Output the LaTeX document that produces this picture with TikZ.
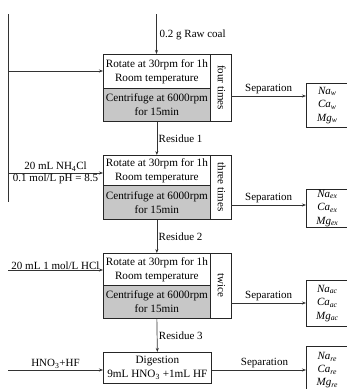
\documentclass[tikz,border=0pt]{standalone}
\usepackage{fontspec}
\setmainfont{Liberation Serif}
\usetikzlibrary{arrows.meta}
\newcommand\elm[2]{\textit{#1}\textsubscript{\textit{#2}}}
\begin{document}
\begin{tikzpicture}[x=1pt,y=-1pt,
  line/.style={draw=black!80, line width=0.7pt},
  arr/.style={line, -{Stealth[length=4pt,width=3pt]}},
  box/.style={draw=black!85, line width=0.7pt, anchor=north west, inner sep=0pt,
    align=center, font=\fontsize{11.2}{14}\selectfont},
  gbox/.style={box, fill=black!22},
  sidebox/.style={draw=black!85, line width=0.7pt, inner sep=0pt, rotate=-90,
    minimum height=21, text height=7.5pt, text depth=2pt, font=\fontsize{11}{13}\selectfont},
  outbox/.style={box, minimum width=42, font=\fontsize{11}{13.5}\selectfont},
  lab/.style={font=\fontsize{11}{13}\selectfont, inner sep=1.5pt}
]
\useasboundingbox (0,0) rectangle (347,389);
\clip (0,0) rectangle (347,389);

% stage 1
\node[box, minimum width=107, minimum height=34] (top1) at (103,54) {Rotate at 30rpm for 1h\\Room temperature};
\node[gbox, minimum width=107, minimum height=33] (bot1) at (103,88) {Centrifuge at 6000rpm\\for 15min};
\node[sidebox, minimum width=67] (side1) at (220.5,87.5) {four times};
\node[outbox, minimum height=44] (out1) at (306,83) {\elm{Na}{w}\\\elm{Ca}{w}\\\elm{Mg}{w}};

% stage 2
\node[box, minimum width=107, minimum height=30] (top2) at (103,155) {Rotate at 30rpm for 1h\\Room temperature};
\node[gbox, minimum width=107, minimum height=34] (bot2) at (103,185) {Centrifuge at 6000rpm\\for 15min};
\node[sidebox, minimum width=64] (side2) at (220.5,187) {three times};
\node[outbox, minimum height=38] (out2) at (306,189) {\elm{Na}{ex}\\\elm{Ca}{ex}\\\elm{Mg}{ex}};

% stage 3
\node[box, minimum width=107, minimum height=32] (top3) at (103,253) {Rotate at 30rpm for 1h\\Room temperature};
\node[gbox, minimum width=107, minimum height=33] (bot3) at (103,285) {Centrifuge at 6000rpm\\for 15min};
\node[sidebox, minimum width=65] (side3) at (220.5,285.5) {twice};
\node[outbox, minimum height=46] (out3) at (306,280) {\elm{Na}{ac}\\\elm{Ca}{ac}\\\elm{Mg}{ac}};

% stage 4
\node[box, minimum width=108, minimum height=31] (dig) at (103,352) {Digestion\\9mL HNO\textsubscript{3} +1mL HF};
\node[outbox, minimum height=48, font=\fontsize{11}{13}\selectfont] (out4) at (306,346) {\elm{Na}{re}\\\elm{Ca}{re}\\\elm{Mg}{re}};

% left feed line
\coordinate (vt) at (8,14);
\coordinate (vb) at (8,202);
\draw[line] (vt) -- (vb);
\coordinate (in1) at (8,71);
\coordinate (in2) at (8,173);
\coordinate (in3) at (8,270);
\coordinate (in4) at (8,370);
\draw[arr] (in1) -- (in1 -| top1.west);
\draw[arr] (in2) -- node[lab, above] {20 mL NH\textsubscript{4}Cl} node[lab, below, inner sep=0.5pt] {0.1 mol/L pH = 8.5} (in2 -| top2.west);
\draw[arr] (in3) -- node[lab, above, inner sep=0.5pt] {20 mL 1 mol/L HCl} (in3 -| top3.west);
\draw[arr] (in4) -- node[lab, above] {HNO\textsubscript{3}+HF} (in4 -| dig.west);

% raw coal
\coordinate (raw) at (156.5,14);
\draw[arr] (raw) -- (raw |- top1.north);
\node[lab, anchor=west] (rawlab) at (158,35) {0.2 g Raw coal};

% residues
\draw[arr] (bot1.south) -- node[lab, anchor=west] (r1) {Residue 1} (top2.north);
\draw[arr] (bot2.south) -- node[lab, anchor=west] (r2) {Residue 2} (top3.north);
\draw[arr] (bot3.south) -- node[lab, anchor=west] (r3) {Residue 3} (dig.north);

% separations
\coordinate (s1) at (0,96);
\coordinate (s2) at (0,205);
\coordinate (s3) at (0,303);
\coordinate (s4) at (0,370);
\draw[arr] (side1.north |- s1) -- node[lab, above] {Separation} (out1.west |- s1);
\draw[arr] (side2.north |- s2) -- node[lab, above] {Separation} (out2.west |- s2);
\draw[arr] (side3.north |- s3) -- node[lab, above] {Separation} (out3.west |- s3);
\draw[arr] (dig.east |- s4) -- node[lab, above, pos=0.56] {Separation} (out4.west |- s4);
\end{tikzpicture}
\end{document}
